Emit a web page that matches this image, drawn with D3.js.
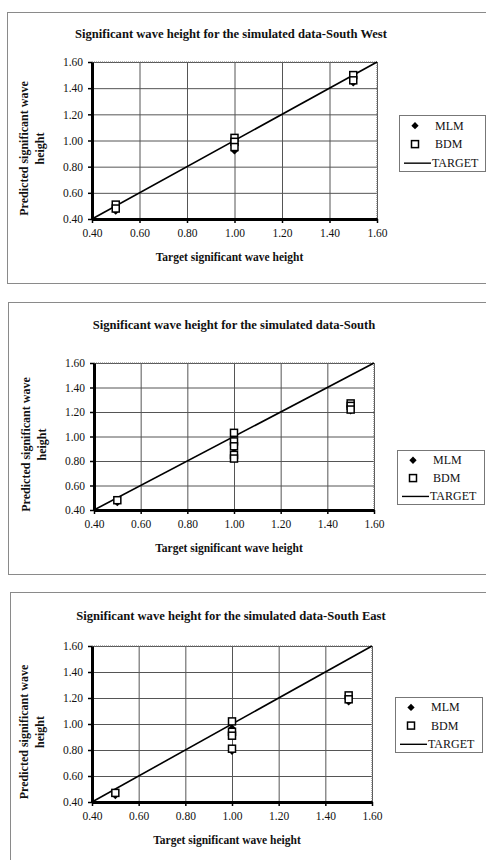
<!DOCTYPE html>
<html>
<head>
<meta charset="utf-8">
<script src="https://cdn.jsdelivr.net/npm/d3@7"></script>
<style>
  html,body{margin:0;padding:0;background:#fff}
  svg{display:block}
  text{font-family:"Liberation Serif","Times New Roman",serif;fill:#111}
</style>
</head>
<body>
<svg id="chart" width="486" height="860"></svg>
<script>
// values
const ticks = [0.40, 0.60, 0.80, 1.00, 1.20, 1.40, 1.60]
const targetLine = [0.40, 1.60]

const titles = [
  'Significant wave height for the simulated data-South West',
  'Significant wave height for the simulated data-South',
  'Significant wave height for the simulated data-South East'
]
const legendNames = ['MLM', 'BDM', 'TARGET']

// South West
const swMlmX = [0.5, 1.0, 1.0, 1.5]
const swMlmY = [0.46, 0.93, 0.92, 1.44]
const swBdmX = [0.5, 0.5, 1.0, 1.0, 1.0, 1.5, 1.5]
const swBdmY = [0.51, 0.48, 1.02, 0.99, 0.95, 1.50, 1.46]

// South
const sMlmX = [0.5, 1.0, 1.0, 1.5]
const sMlmY = [0.46, 0.83, 0.90, 1.21]
const sBdmX = [0.5, 1.0, 1.0, 1.0, 1.0, 1.0, 1.5, 1.5, 1.5]
const sBdmY = [0.48, 1.03, 0.96, 0.92, 0.85, 0.82, 1.27, 1.25, 1.22]

// South East
const seMlmX = [0.5, 1.0, 1.0, 1.5]
const seMlmY = [0.45, 0.97, 0.79, 1.17]
const seBdmX = [0.5, 1.0, 1.0, 1.0, 1.0, 1.5, 1.5]
const seBdmY = [0.47, 1.02, 0.94, 0.91, 0.81, 1.22, 1.19]

;(function(){
  const svg = d3.select('#chart')
  const zip = (xs, ys) => xs.map((x,i)=>({x, y: ys[i]}))

  // layout of each panel on the page
  const panels = [
    {frame:{x:7, y:12, b:283}, plot:{l:92, r:377, t:62, b:219}, tx:231, ty:38, legend:{x:399, y:115, w:86, h:56},
      mlm: zip(swMlmX, swMlmY), bdm: zip(swBdmX, swBdmY)},
    {frame:{x:8, y:302, b:574}, plot:{l:94, r:374, t:363, b:510}, tx:234, ty:329, legend:{x:397, y:450, w:87, h:54},
      mlm: zip(sMlmX, sMlmY), bdm: zip(sBdmX, sBdmY)},
    {frame:{x:10, y:592, b:null}, plot:{l:92, r:372, t:646, b:802}, tx:231, ty:620, legend:{x:395, y:697, w:87, h:55},
      mlm: zip(seMlmX, seMlmY), bdm: zip(seBdmX, seBdmY)}
  ]

  panels.forEach((p, idx)=>{
    const g = svg.append('g')
    const f = p.frame
    // outer chart frame (grey, like the scan)
    const fr = g.append('g').attr('stroke', '#8a8a8a').attr('stroke-width', 1)
    fr.append('line').attr('x1', f.x).attr('x2', 486).attr('y1', f.y+0.5).attr('y2', f.y+0.5)
    fr.append('line').attr('x1', f.x+0.5).attr('x2', f.x+0.5).attr('y1', f.y).attr('y2', f.b==null ? 860 : f.b)
    if(f.b!=null) fr.append('line').attr('x1', f.x).attr('x2', 486).attr('y1', f.b+0.5).attr('y2', f.b+0.5)

    const x = d3.scaleLinear().domain([0.4, 1.6]).range([p.plot.l, p.plot.r])
    const y = d3.scaleLinear().domain([0.4, 1.6]).range([p.plot.b, p.plot.t])

    // gridlines
    g.append('g').attr('transform', `translate(0,${p.plot.b})`)
      .call(d3.axisBottom(x).tickValues(ticks).tickSize(-(p.plot.b-p.plot.t)).tickFormat(''))
      .call(a=>a.select('.domain').remove())
      .selectAll('line').attr('stroke', '#555').attr('stroke-width', 1)
    g.append('g').attr('transform', `translate(${p.plot.l},0)`)
      .call(d3.axisLeft(y).tickValues(ticks).tickSize(-(p.plot.r-p.plot.l)).tickFormat(''))
      .call(a=>a.select('.domain').remove())
      .selectAll('line').attr('stroke', '#555').attr('stroke-width', 1)

    // top/right plot border, dotted grey
    g.append('path')
      .attr('d', `M${p.plot.l},${p.plot.t}H${p.plot.r}V${p.plot.b}`)
      .attr('fill', 'none').attr('stroke', '#777').attr('stroke-width', 1.2).attr('stroke-dasharray', '1,1')

    // axes
    const xa = g.append('g').attr('transform', `translate(0,${p.plot.b})`)
      .call(d3.axisBottom(x).tickValues(ticks).tickSize(4).tickSizeOuter(0).tickPadding(6).tickFormat(d3.format('.2f')))
    const ya = g.append('g').attr('transform', `translate(${p.plot.l},0)`)
      .call(d3.axisLeft(y).tickValues(ticks).tickSize(4).tickSizeOuter(0).tickPadding(5).tickFormat(d3.format('.2f')))
    ;[xa, ya].forEach(a=>{
      a.select('.domain').attr('stroke', '#000').attr('stroke-width', 3)
      a.selectAll('.tick line').attr('stroke', '#000').attr('stroke-width', 1.5)
      a.selectAll('.tick text').attr('font-family', '"Liberation Serif",serif').attr('font-size', 11.5).attr('fill', '#111')
    })

    // target line
    g.append('path')
      .datum(targetLine)
      .attr('d', d3.line().x(d=>x(d)).y(d=>y(d)))
      .attr('stroke', '#000').attr('stroke-width', 1.6).attr('fill', 'none')

    // MLM diamonds
    g.append('g').selectAll('path').data(p.mlm).join('path')
      .attr('transform', d=>`translate(${x(d.x)},${y(d.y)})`)
      .attr('d', d3.symbol(d3.symbolDiamond2, 34))
      .attr('fill', '#000')

    // BDM squares
    g.append('g').selectAll('rect').data(p.bdm).join('rect')
      .attr('x', d=>x(d.x)-3.5).attr('y', d=>y(d.y)-3.5)
      .attr('width', 7).attr('height', 7)
      .attr('fill', '#fff').attr('stroke', '#000').attr('stroke-width', 1.5)

    // titles
    g.append('text').attr('x', p.tx).attr('y', p.ty).attr('text-anchor', 'middle')
      .attr('font-weight', 'bold').attr('font-size', 12.6).text(titles[idx])
    g.append('text').attr('x', (p.plot.l+p.plot.r)/2 - 5).attr('y', p.plot.b + 42).attr('text-anchor', 'middle')
      .attr('font-weight', 'bold').attr('font-size', 11.5).text('Target significant wave height')
    const yl = g.append('text')
      .attr('transform', `translate(${p.plot.l-64},${(p.plot.t+p.plot.b)/2 + 8}) rotate(-90)`)
      .attr('text-anchor', 'middle').attr('font-weight', 'bold').attr('font-size', 12)
    yl.append('tspan').attr('x', 0).attr('dy', 0).text('Predicted significant wave')
    yl.append('tspan').attr('x', 0).attr('dy', 16).text('height')

    // legend
    const L = p.legend
    const lg = g.append('g').attr('transform', `translate(${L.x},${L.y})`)
    lg.append('rect').attr('x', 0.5).attr('y', 0.5).attr('width', L.w).attr('height', L.h)
      .attr('fill', '#fff').attr('stroke', '#777').attr('stroke-width', 1)
    const rowY = [L.h*0.19, L.h*0.52, L.h*0.86]
    lg.append('path').attr('transform', `translate(16,${rowY[0]})`)
      .attr('d', d3.symbol(d3.symbolDiamond2, 34)).attr('fill', '#000')
    lg.append('rect').attr('x', 12.5).attr('y', rowY[1]-3.5).attr('width', 7).attr('height', 7)
      .attr('fill', '#fff').attr('stroke', '#000').attr('stroke-width', 1.5)
    lg.append('line').attr('x1', 5).attr('x2', 32).attr('y1', rowY[2]).attr('y2', rowY[2])
      .attr('stroke', '#000').attr('stroke-width', 1.4)
    lg.selectAll('text.lab').data(legendNames).join('text').attr('class', 'lab')
      .attr('x', (d,i)=> i==2 ? 33 : 36).attr('y', (d,i)=>rowY[i]+4)
      .attr('font-size', 12).text(d=>d)
  })
})();
</script>
</body>
</html>
